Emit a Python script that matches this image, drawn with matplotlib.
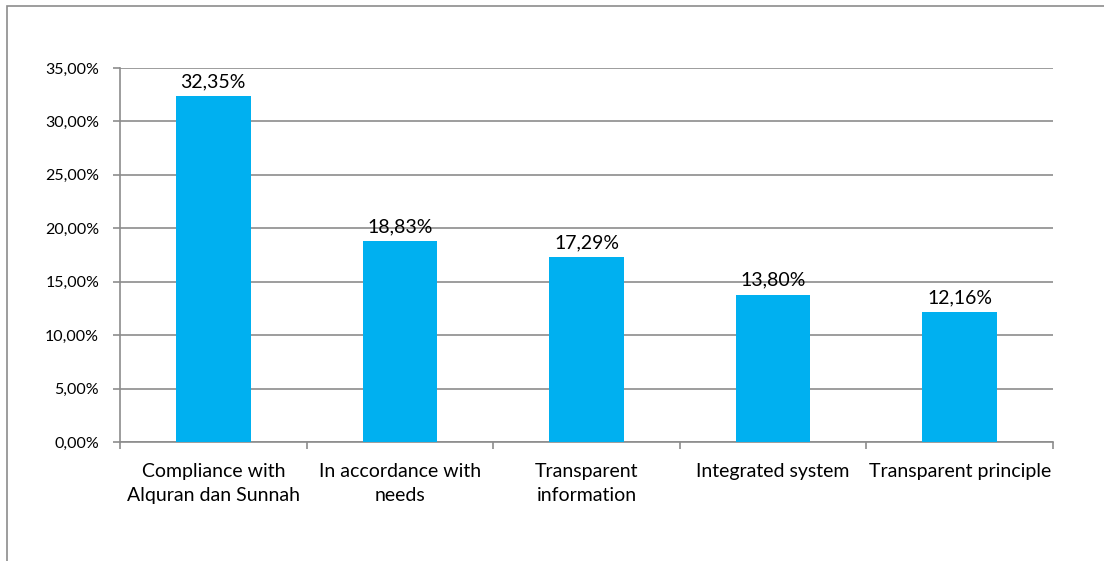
import matplotlib.pyplot as plt
from matplotlib.patches import Rectangle
import numpy as np

categories = ["Compliance with\nAlquran dan Sunnah", "In accordance with\nneeds",
              "Transparent\ninformation", "Integrated system", "Transparent principle"]
values = [32.35, 18.83, 17.29, 13.80, 12.16]
yticks = [0, 5, 10, 15, 20, 25, 30, 35]

plt.rcParams['font.family'] = ['Lato', 'DejaVu Sans']

fig = plt.figure(figsize=(11.04, 5.61), dpi=100)
ax = fig.add_axes([120/1104, 1 - 442/561, (1053 - 120)/1104, (442 - 68)/561])

x = np.arange(len(categories))
ax.bar(x, values, width=0.4, color='#00B0F0', zorder=3)

for xi, v in zip(x, values):
    ax.text(xi, v + 0.55, f"{v:.2f}".replace('.', ',') + '%', ha='center', va='bottom',
            fontsize=14, color='#000000')

ax.set_xlim(-0.5, len(categories) - 0.5)
ax.set_ylim(0, 35)
ax.set_yticks(yticks)
ax.set_yticklabels([f"{t:.2f}".replace('.', ',') + '%' for t in yticks], fontsize=11.5)
ax.yaxis.grid(True, color='#8c8c8c', linewidth=1.2, zorder=0)
ax.set_axisbelow(True)

ax.set_xticks(x)
ax.set_xticklabels(categories, fontsize=14, linespacing=1.5)
ax.tick_params(axis='x', length=0, pad=15)
ax.set_xticks(np.arange(len(categories) + 1) - 0.5, minor=True)
ax.tick_params(axis='x', which='minor', length=5, width=1.2, color='#8c8c8c', direction='out')
ax.tick_params(axis='y', length=5, width=1.2, color='#8c8c8c', pad=10)

for s in ['top', 'right']:
    ax.spines[s].set_visible(False)
for s in ['left', 'bottom']:
    ax.spines[s].set_color('#8c8c8c')
    ax.spines[s].set_linewidth(1.2)

# outer chart border (only top and left edges visible)
fig.add_artist(Rectangle((7/1104, -0.1), 1.2, (1 - 6/561) + 0.1, transform=fig.transFigure,
                         fill=False, edgecolor='#8c8c8c', linewidth=1.2))

fig.savefig('out.png', dpi=100)
